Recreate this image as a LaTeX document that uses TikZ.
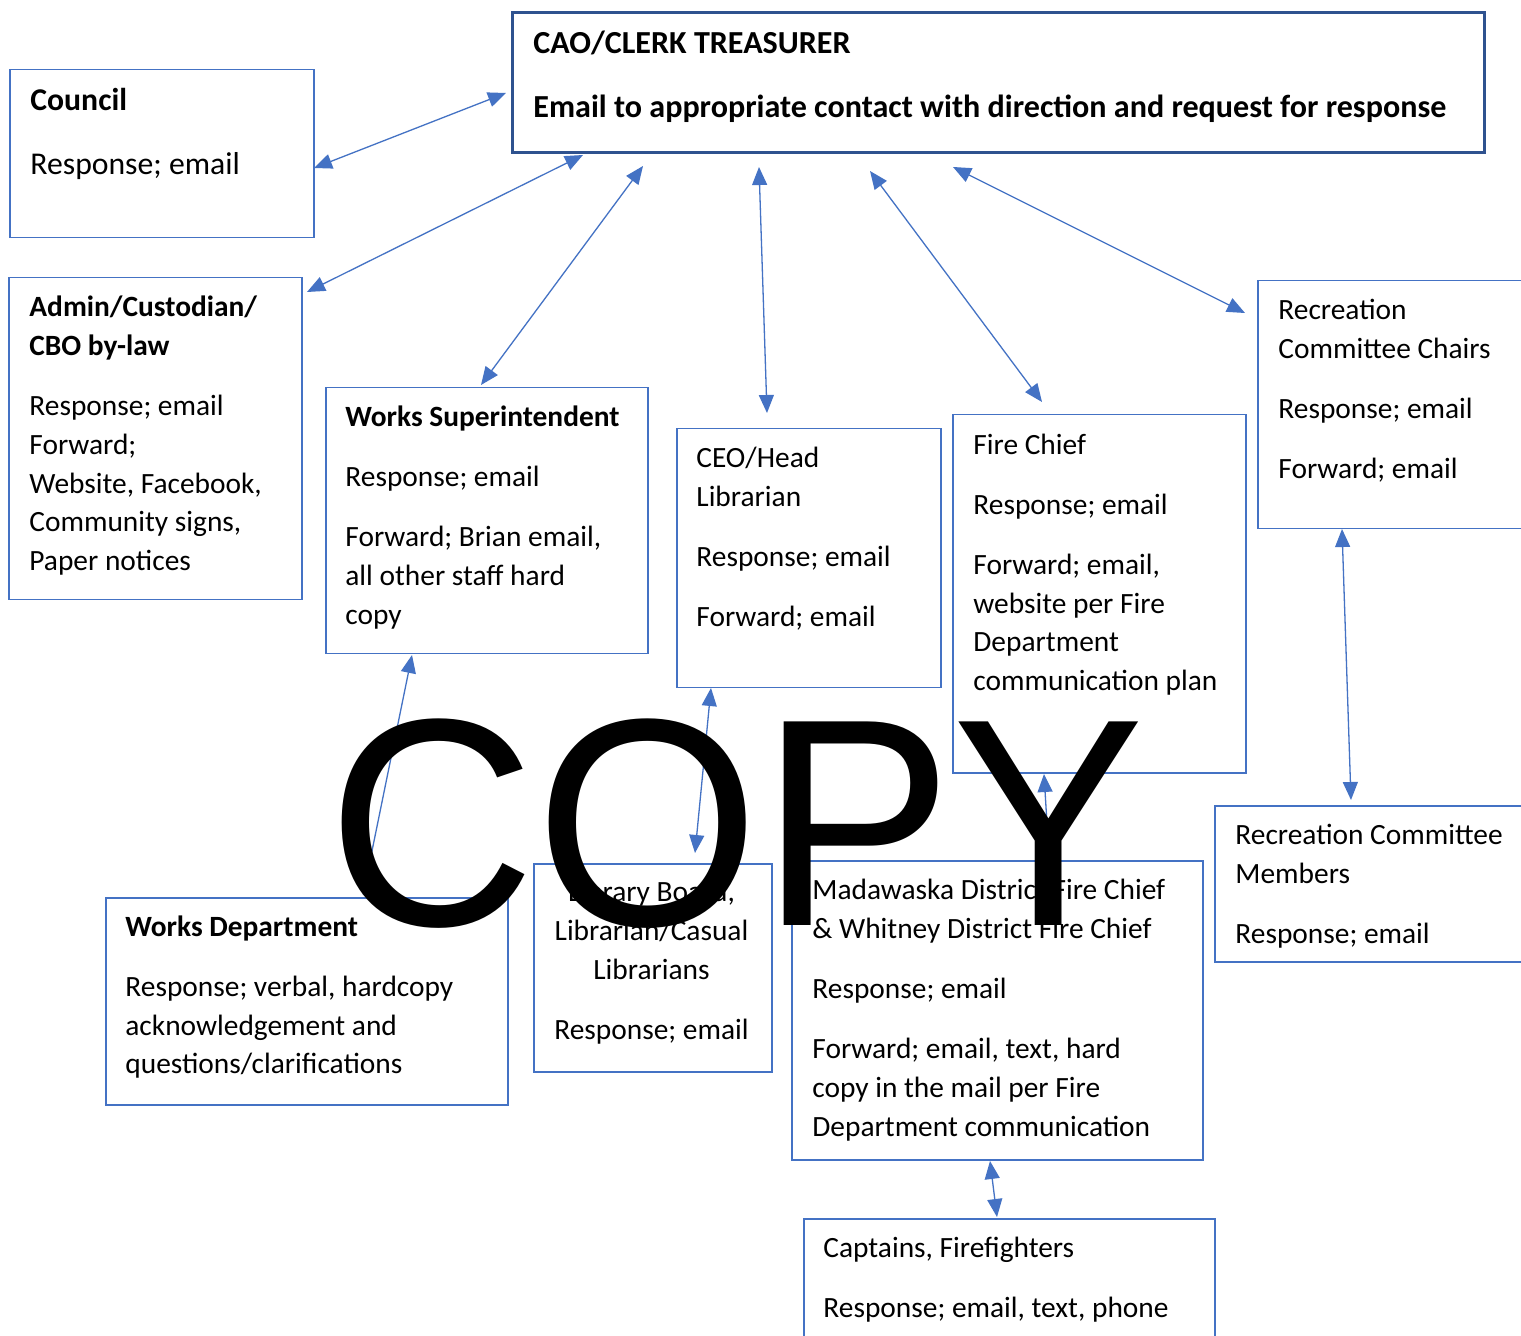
\documentclass[tikz,border=0pt]{standalone}
\usepackage{fontspec}
\setmainfont{Carlito}
\newfontfamily\wmfont{Liberation Sans}
\usetikzlibrary{arrows.meta}
\definecolor{boxblue}{RGB}{68,114,196}
\definecolor{caoblue}{RGB}{47,82,143}
\tikzset{
  box/.style={draw=boxblue, line width=0.75pt, anchor=north west, inner sep=0pt},
  caobox/.style={draw=caoblue, line width=1.5pt, anchor=north west, inner sep=0pt},
  txt/.style={anchor=north west, inner sep=0pt, align=left, font=\fontsize{14.7}{19.35}\selectfont},
  bigtxt/.style={anchor=north west, inner sep=0pt, align=left, font=\fontsize{15.85}{19.35}\selectfont},
  caotxt/.style={anchor=north west, inner sep=0pt, align=left, font=\fontsize{16.05}{19.35}\selectfont},
  ctxt/.style={anchor=north, inner sep=0pt, align=center, font=\fontsize{14.7}{19.35}\selectfont},
  link/.style={draw=boxblue, line width=0.65pt, {Triangle[length=9pt,width=7.5pt]}-{Triangle[length=9pt,width=7.5pt]}},
  watermark/.style={anchor=base west, inner sep=0pt, xscale=0.975, font=\wmfont\fontsize{148}{148}\selectfont}
}
\newcommand{\pgap}{\\[10.65pt]}
\begin{document}
\begin{tikzpicture}[x=0.5pt,y=-0.5pt]
\useasboundingbox (0,0) rectangle (1521,1336);
\clip (0,0) rectangle (1521,1336);
\fill[white] (0,0) rectangle (1521,1336);

% boxes
\node[caobox, minimum width=486pt, minimum height=70pt] (cao) at (511,11.5) {};
\node[box, minimum width=152pt, minimum height=84pt] (council) at (9,69) {};
\node[box, minimum width=146.5pt, minimum height=161pt] (admin) at (8,277) {};
\node[box, minimum width=161pt, minimum height=133pt] (wsup) at (325,387) {};
\node[box, minimum width=132pt, minimum height=129.5pt] (ceo) at (676,428) {};
\node[box, minimum width=146.5pt, minimum height=179pt] (fire) at (952,414) {};
\node[box, minimum width=141.5pt, minimum height=124pt] (recch) at (1257,280) {};
\node[box, minimum width=163pt, minimum height=78pt] (recmem) at (1214,805) {};
\node[box, minimum width=205.5pt, minimum height=149.5pt] (mada) at (791,860) {};
\node[box, minimum width=119pt, minimum height=104pt] (lib) at (533,863) {};
\node[box, minimum width=201pt, minimum height=103.5pt] (wdept) at (105,897) {};
\node[box, minimum width=205.5pt, minimum height=71pt] (capt) at (803,1218) {};

% texts
\node[caotxt] (caot) at (533,26.5) {\strut\bfseries CAO/CLERK TREASURER\\[12.4pt]\bfseries Email to appropriate contact with direction and request for response};
\node[bigtxt] (councilt) at (30,83) {\strut\bfseries Council\\[12.65pt]Response; email};
\node[txt] (admint) at (29,289.5) {\strut\bfseries Admin/Custodian/\\\bfseries CBO by-law\pgap Response; email\\Forward;\\Website, Facebook,\\Community signs,\\Paper notices};
\node[txt] (wsupt) at (345,399.5) {\strut\bfseries Works Superintendent\pgap Response; email\pgap Forward; Brian email,\\all other staff hard\\copy};
\node[txt] (ceot) at (696,440) {\strut CEO/Head\\Librarian\pgap Response; email\pgap Forward; email};
\node[txt] (firet) at (973,427) {\strut Fire Chief\pgap Response; email\pgap Forward; email,\\website per Fire\\Department\\communication plan};
\node[txt] (recht) at (1278,292) {\strut Recreation\\Committee Chairs\pgap Response; email\pgap Forward; email};
\node[txt] (recmemt) at (1235,817) {\strut Recreation Committee\\Members\pgap Response; email};
\node[txt] (madat) at (812,872.5) {\strut Madawaska District Fire Chief\\\& Whitney District Fire Chief\pgap Response; email\pgap Forward; email, text, hard\\copy in the mail per Fire\\Department communication};
\node[ctxt] (libt) at (651.5,874.5) {\strut Library Board,\\Librarian/Casual\\Librarians\pgap Response; email};
\node[txt] (wdeptt) at (125,909) {\strut\bfseries Works Department\pgap Response; verbal, hardcopy\\acknowledgement and\\questions/clarifications};
\node[txt] (captt) at (823,1230) {\strut Captains, Firefighters\pgap Response; email, text, phone};

% connector end points
\coordinate (c1a) at (314,168);  \coordinate (c1b) at (506,93);
\coordinate (c2a) at (307,292);  \coordinate (c2b) at (583,155);
\coordinate (c3a) at (481,385);  \coordinate (c3b) at (643,166);
\coordinate (c4a) at (767,413);  \coordinate (c4b) at (759,167);
\coordinate (c5a) at (1042,402); \coordinate (c5b) at (870,171);
\coordinate (c6a) at (1245,313); \coordinate (c6b) at (953,167);
\coordinate (c7a) at (1351,800); \coordinate (c7b) at (1342,529);
\coordinate (c8a) at (363,895);  \coordinate (c8b) at (412,655);
\coordinate (c9a) at (695,853);  \coordinate (c9b) at (711,688);
\coordinate (c10a) at (1049,857); \coordinate (c10b) at (1044,774);
\coordinate (c11a) at (997,1217); \coordinate (c11b) at (990,1161);

\draw[link] (c1a) -- (c1b);
\draw[link] (c2a) -- (c2b);
\draw[link] (c3a) -- (c3b);
\draw[link] (c4a) -- (c4b);
\draw[link] (c5a) -- (c5b);
\draw[link] (c6a) -- (c6b);
\draw[link] (c7a) -- (c7b);
\draw[link] (c8a) -- (c8b);
\draw[link] (c9a) -- (c9b);
\draw[link] (c10a) -- (c10b);
\draw[link] (c11a) -- (c11b);

% watermark
\node[watermark] (wm) at (327,925) {COPY};
\end{tikzpicture}
\end{document}
